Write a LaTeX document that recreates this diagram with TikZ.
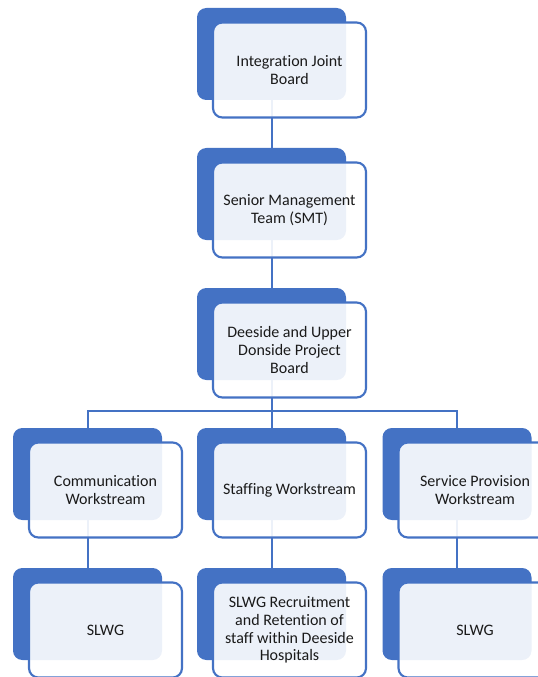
\documentclass[tikz,border=0pt]{standalone}
\usepackage{fontspec}
\setmainfont{Carlito}[Ligatures=NoCommon]
\usetikzlibrary{backgrounds}
\definecolor{boxblue}{HTML}{4472C4}
\definecolor{boxtext}{HTML}{1A1A1A}
\tikzset{
  backbox/.style={fill=boxblue, rounded corners=7pt, minimum width=111.75pt, minimum height=69pt, inner sep=0pt},
  frontbox/.style={draw=boxblue, line width=1.6pt, fill=white, fill opacity=0.9, text opacity=1,
    rounded corners=7pt, minimum width=114.75pt, minimum height=71.25pt, inner sep=0pt,
    align=center, text=boxtext, font=\fontsize{12}{13.3}\selectfont},
  link/.style={draw=boxblue, line width=1.5pt}
}
\begin{document}
\begin{tikzpicture}[x=0.75pt,y=-0.75pt]
    \useasboundingbox (0,0) rectangle (537,677);
    % top chain
    \node [backbox] (ijb) at (271.5, 54) {};
    \node [frontbox] (ijbT) at (289.5, 70) {Integration Joint\\Board};
    \node [backbox] (smt) at (271.5, 194) {};
    \node [frontbox] (smtT) at (289.5, 210) {Senior Management\\Team (SMT)};
    \node [backbox] (proj) at (271.5, 334) {};
    \node [frontbox] (projT) at (289.5, 350) {Deeside and Upper\\Donside Project\\Board};
    % workstreams
    \node [backbox] (comm) at (87.5, 474) {};
    \node [frontbox] (commT) at (105.5, 490) {Communication\\Workstream};
    \node [backbox] (staff) at (271.5, 474) {};
    \node [frontbox] (staffT) at (289.5, 490) {Staffing Workstream};
    \node [backbox] (serv) at (457, 474) {};
    \node [frontbox] (servT) at (475, 490) {Service Provision\\Workstream};
    % short life working groups
    \node [backbox] (slwgA) at (87.5, 614) {};
    \node [frontbox] (slwgAT) at (105.5, 630) {SLWG};
    \node [backbox] (slwgB) at (271.5, 614) {};
    \node [frontbox] (slwgBT) at (289.5, 630) {SLWG Recruitment\\and Retention of\\staff within Deeside\\Hospitals};
    \node [backbox] (slwgC) at (457, 614) {};
    \node [frontbox] (slwgCT) at (475, 630) {SLWG};
    % connectors behind the boxes
    \begin{scope}[on background layer]
        \coordinate (bar) at (271.5, 411);
        \draw [link] (ijb.center) -- (smt.center);
        \draw [link] (smt.center) -- (proj.center);
        \draw [link] (proj.center) -- (bar);
        \draw [link] (comm.center) |- (bar) -| (serv.center);
        \draw [link] (bar) -- (staff.center);
        \draw [link] (comm.center) -- (slwgA.center);
        \draw [link] (staff.center) -- (slwgB.center);
        \draw [link] (serv.center) -- (slwgC.center);
    \end{scope}
\end{tikzpicture}
\end{document}
